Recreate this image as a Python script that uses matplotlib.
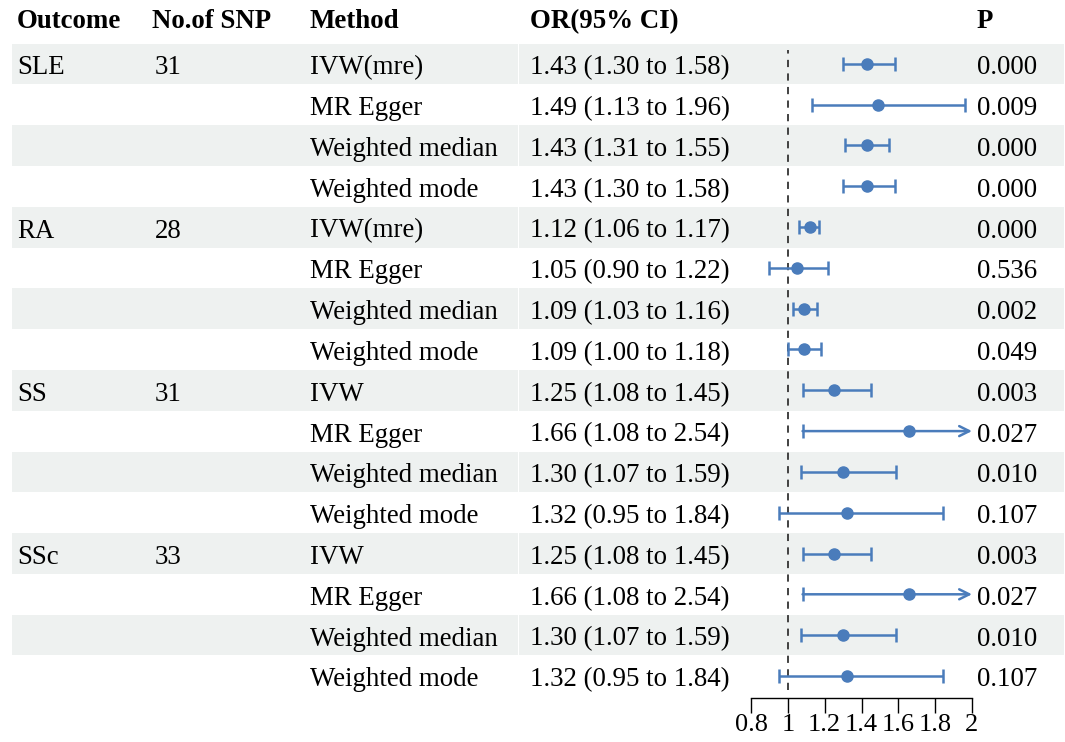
import matplotlib
matplotlib.use("Agg")
import matplotlib.pyplot as plt
from matplotlib.patches import Rectangle

plt.rcParams['font.family'] = ['Liberation Serif', 'DejaVu Serif']

outcomes = ["SLE", "", "", "", "RA", "", "", "", "SS", "", "", "", "SSc", "", "", ""]
n_snp = ["31", "", "", "", "28", "", "", "", "31", "", "", "", "33", "", "", ""]
methods = ["IVW(mre)", "MR Egger", "Weighted median", "Weighted mode",
           "IVW(mre)", "MR Egger", "Weighted median", "Weighted mode",
           "IVW", "MR Egger", "Weighted median", "Weighted mode",
           "IVW", "MR Egger", "Weighted median", "Weighted mode"]
or_vals = [1.43, 1.49, 1.43, 1.43, 1.12, 1.05, 1.09, 1.09,
           1.25, 1.66, 1.30, 1.32, 1.25, 1.66, 1.30, 1.32]
ci_low = [1.30, 1.13, 1.31, 1.30, 1.06, 0.90, 1.03, 1.00,
          1.08, 1.08, 1.07, 0.95, 1.08, 1.08, 1.07, 0.95]
ci_high = [1.58, 1.96, 1.55, 1.58, 1.17, 1.22, 1.16, 1.18,
           1.45, 2.54, 1.59, 1.84, 1.45, 2.54, 1.59, 1.84]
p_vals = ["0.000", "0.009", "0.000", "0.000", "0.000", "0.536", "0.002", "0.049",
          "0.003", "0.027", "0.010", "0.107", "0.003", "0.027", "0.010", "0.107"]
headers = ["Outcome", "No.of SNP", "Method", "OR(95% CI)", "P"]
x_ticks = [0.8, 1, 1.2, 1.4, 1.6, 1.8, 2]
x_ticklabels = ["0.8", "1", "1.2", "1.4", "1.6", "1.8", "2"]

W, H = 1065, 742
fig = plt.figure(figsize=(W / 100, H / 100), dpi=100)
fig.patch.set_facecolor("white")

# background axes in pixel coords
bg = fig.add_axes([0, 0, 1, 1])
bg.set_xlim(0, W)
bg.set_ylim(H, 0)
bg.axis("off")

row_top = 43.5
row_h = 40.8
n = len(methods)
fs = 19.4
shade = "#EEF1F0"

for i in range(n):
    yt = row_top + i * row_h
    if i % 2 == 0:
        bg.add_patch(Rectangle((12, yt), 505.5, row_h, facecolor=shade, edgecolor="none"))
        bg.add_patch(Rectangle((518.5, yt), 545, row_h, facecolor=shade, edgecolor="none"))
    yc = yt + row_h / 2 + 4
    bg.text(17, yc, outcomes[i], fontsize=fs, va="center", ha="left")
    bg.text(155, yc, n_snp[i], fontsize=fs, va="center", ha="left")
    bg.text(310, yc, methods[i], fontsize=fs, va="center", ha="left")
    bg.text(530, yc, f"{or_vals[i]:.2f} ({ci_low[i]:.2f} to {ci_high[i]:.2f})",
            fontsize=fs, va="center", ha="left")
    bg.text(977, yc, p_vals[i], fontsize=fs, va="center", ha="left")

hx = [17, 152, 310, 530, 977]
for x, h in zip(hx, headers):
    bg.text(x, 22, h, fontsize=fs, fontweight="bold", va="center", ha="left")

# forest axes
x0_px, x1_px = 751, 972
y_top_px = row_top
y_bot_px = row_top + n * row_h
ax = fig.add_axes([x0_px / W, 1 - y_bot_px / H, (x1_px - x0_px) / W, (y_bot_px - y_top_px) / H])
ax.patch.set_alpha(0)
ax.set_xlim(0.8, 2)
ax.set_ylim(n - 0.5, -0.5)
for s in ["top", "right", "left"]:
    ax.spines[s].set_visible(False)
ax.spines["bottom"].set_linewidth(1.0)
ax.spines["bottom"].set_position(("outward", 1.5))
ax.set_yticks([])
ax.set_xticks(x_ticks)
ax.set_xticklabels(x_ticklabels, fontsize=19)
ax.tick_params(axis="x", direction="out", length=10.5, width=1.0, pad=1)

ax.axvline(1, ymin=0.01, ymax=0.99, color="#333333", linestyle=(0, (4, 3.5)), linewidth=1.3)

blue = "#4A7CBB"
xmax = 2.0
for i in range(n):
    lo, hi, m = ci_low[i], ci_high[i], or_vals[i]
    if hi <= xmax:
        ax.errorbar(m, i, xerr=[[m - lo], [hi - m]], fmt="o", color=blue, ecolor=blue,
                    elinewidth=1.8, capsize=5, capthick=1.8, markersize=8, clip_on=False)
    else:
        ax.plot([lo], [i], marker="|", markersize=10, markeredgewidth=1.8, color=blue, clip_on=False)
        ax.annotate("", xy=(xmax, i), xytext=(lo, i),
                    arrowprops=dict(arrowstyle="->", color=blue, lw=1.8,
                                    shrinkA=0, shrinkB=0, mutation_scale=18))
        ax.plot([m], [i], marker="o", markersize=8, color=blue)

fig.savefig("out.png", dpi=100, facecolor="white")
